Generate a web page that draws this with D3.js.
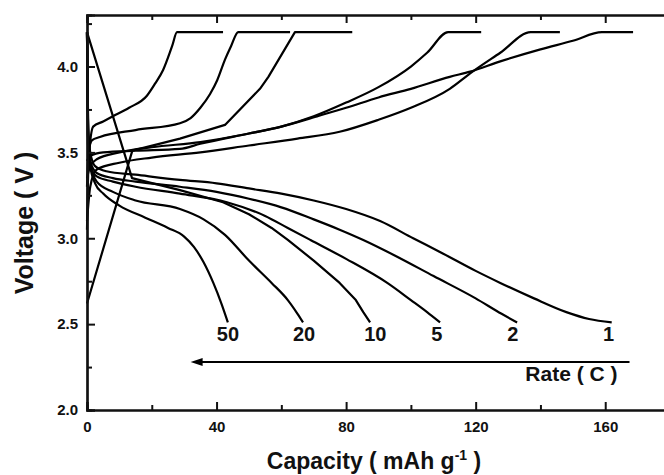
<!DOCTYPE html>
<html>
<head>
<meta charset="utf-8">
<script src="https://cdn.jsdelivr.net/npm/d3@7"></script>
<style>
  html, body { margin: 0; padding: 0; background: #fff; }
  svg { display: block; }
  text { font-family: Arial, "Liberation Sans", Helvetica, sans-serif; font-weight: bold; fill: #111; }
</style>
</head>
<body>
<svg id="chart" width="664" height="475"></svg>
<script>
// ---------- data (capacity mAh/g, voltage V) ----------
const rateLabels = ["50", "20", "10", "5", "2", "1"];
const rateLabelCapacity = [43.5, 67, 89, 108, 131.5, 161];
const rateLabelVoltage = [2.40, 2.40, 2.40, 2.40, 2.40, 2.40];

const charge50C = [[0,3.05],[0.5,3.45],[1.9,3.65],[5,3.68],[8,3.71],[13,3.76],[18.5,3.83],[21,3.9],[23.5,3.98],[26.3,4.12],[27.8,4.2],[42,4.2]];
const charge20C = [[0,3.3],[0.5,3.5],[1.5,3.57],[4,3.59],[15,3.63],[28.7,3.67],[32,3.70],[35,3.76],[38,3.84],[40.2,3.92],[42.6,4.04],[44.5,4.12],[46.7,4.2],[62.7,4.2]];
const charge10C = [[0,2.62],[14,3.51],[28.7,3.58],[42.6,3.66],[53.4,3.87],[56,3.94],[64.2,4.2],[81.9,4.2]];
const charge5C  = [[0,3.35],[1,3.42],[3,3.46],[10,3.5],[20,3.53],[35,3.56],[50,3.61],[60,3.65],[70,3.71],[80,3.79],[90,3.88],[100,4.0],[105,4.08],[111.5,4.2],[121.7,4.2]];
const charge2C  = [[0,3.1],[1,3.3],[3,3.4],[10,3.44],[20,3.47],[35,3.5],[50,3.54],[65,3.58],[78,3.62],[90,3.69],[100,3.76],[112,3.87],[118.3,3.96],[127.6,4.08],[137,4.2],[146,4.2]];
const charge1C  = [[0,3.45],[1,3.48],[5,3.5],[15,3.51],[28.7,3.52],[35,3.55],[50,3.61],[60,3.65],[71,3.71],[80,3.76],[90,3.82],[100,3.87],[112,3.94],[118.3,3.97],[127.6,4.03],[140,4.1],[150,4.15],[159,4.2],[168.6,4.2]];

const discharge50C = [[0,4.2],[0.3,3.6],[1,3.42],[2.5,3.32],[5,3.26],[10,3.19],[18,3.12],[25,3.06],[30,3.01],[33,2.95],[36,2.86],[39,2.74],[41.5,2.62],[43.5,2.51]];
const discharge20C = [[0,4.2],[0.4,3.6],[1.2,3.42],[3,3.33],[8,3.27],[15,3.22],[28.7,3.17],[36,3.11],[42.6,3.02],[50,2.87],[57,2.74],[62,2.64],[65,2.56],[66.7,2.51]];
const discharge10C = [[0,4.2],[13.9,3.35],[28.7,3.28],[42,3.21],[50,3.14],[57,3.06],[62,2.99],[70,2.87],[78,2.74],[83,2.64],[85.3,2.57],[87.4,2.51]];
const discharge5C  = [[0,4.2],[0.3,3.55],[1,3.42],[3,3.36],[8,3.33],[15,3.30],[28.7,3.26],[43.2,3.21],[55,3.13],[62,3.06],[69,2.99],[80,2.88],[92.7,2.74],[100,2.64],[105,2.57],[109,2.51]];
const discharge2C  = [[0,4.2],[0.3,3.6],[1,3.45],[3,3.38],[8,3.35],[15,3.33],[28.7,3.30],[40,3.27],[50,3.23],[60,3.18],[70,3.11],[78,3.05],[85.3,2.99],[95,2.9],[107,2.78],[120,2.65],[128,2.56],[132.8,2.51]];
const discharge1C  = [[0,4.2],[0.3,3.7],[1,3.5],[2.5,3.42],[6,3.39],[15,3.37],[28.7,3.34],[40,3.32],[50,3.29],[60,3.26],[70,3.22],[80,3.17],[90.5,3.1],[100.7,3.0],[110,2.91],[120,2.81],[127.6,2.74],[138,2.65],[148,2.57],[155,2.53],[162,2.51]];

const xTicksMajor = [0, 40, 80, 120, 160];
const xTicksMinor = [20, 60, 100, 140, 180];
const yTicksMajor = [2.0, 2.5, 3.0, 3.5, 4.0];
const yTicksMinor = [2.25, 2.75, 3.25, 3.75, 4.25];
const arrowCapacity = [167.5, 32];
const arrowVoltage = 2.28;

(function () {
// ---------- layout ----------
const svg = d3.select("#chart");
const mLeft = 87, mTop = 15, mBottom = 410, mRight = 670;
const x = d3.scaleLinear().domain([0, 180]).range([mLeft, mRight]);
const y = d3.scaleLinear().domain([2.0, 4.3]).range([mBottom, mTop]);

const curves = [
  {d: charge50C, c: d3.curveMonotoneX}, {d: charge20C, c: d3.curveMonotoneX},
  {d: charge10C, c: d3.curveLinear},    {d: charge5C,  c: d3.curveMonotoneX},
  {d: charge2C,  c: d3.curveMonotoneX}, {d: charge1C,  c: d3.curveMonotoneX},
  {d: discharge50C, c: d3.curveMonotoneX}, {d: discharge20C, c: d3.curveMonotoneX},
  {d: discharge10C, c: d3.curveLinear},    {d: discharge5C,  c: d3.curveMonotoneX},
  {d: discharge2C,  c: d3.curveMonotoneX}, {d: discharge1C,  c: d3.curveMonotoneX}
];

const g = svg.append("g");
curves.forEach(s => {
  const line = d3.line().x(p => x(p[0])).y(p => y(p[1])).curve(s.c);
  g.append("path").attr("d", line(s.d))
    .attr("fill", "none").attr("stroke", "#000").attr("stroke-width", 2.2)
    .attr("stroke-linejoin", "round");
});

// ---------- axes ----------
const axisColor = "#111";
const bx = svg.append("g").attr("transform", `translate(0,${mBottom})`);
bx.call(d3.axisBottom(x).tickValues(xTicksMajor).tickSize(-8).tickFormat(d3.format("d")));
bx.selectAll(".tick text").attr("dy", "0").attr("y", 22).style("font-size", "15px");
bx.append("g").call(d3.axisBottom(x).tickValues(xTicksMinor).tickSize(-5).tickFormat(""));

const tx = svg.append("g").attr("transform", `translate(0,${mTop})`);
tx.call(d3.axisTop(x).tickValues(xTicksMajor).tickSize(-8).tickFormat(""));
tx.append("g").call(d3.axisTop(x).tickValues(xTicksMinor).tickSize(-5).tickFormat(""));

const ly = svg.append("g").attr("transform", `translate(${mLeft},0)`);
ly.call(d3.axisLeft(y).tickValues(yTicksMajor).tickSize(-8).tickFormat(d3.format(".1f")));
ly.selectAll(".tick text").attr("x", -9).style("font-size", "15px");
ly.append("g").call(d3.axisLeft(y).tickValues(yTicksMinor).tickSize(-5).tickFormat(""));

svg.selectAll(".domain").attr("stroke", axisColor).attr("stroke-width", 2.2);
svg.selectAll(".tick line").attr("stroke", axisColor).attr("stroke-width", 2);
svg.selectAll(".tick text").attr("fill", "#111").style("font-family", "Arial, 'Liberation Sans', sans-serif").style("font-weight", "bold");

// ---------- axis titles ----------
const xt = svg.append("text").attr("x", 374).attr("y", 469).attr("text-anchor", "middle").style("font-size", "23px");
xt.append("tspan").text("Capacity ( mAh g");
xt.append("tspan").attr("dy", -9).style("font-size", "14px").text("-1");
xt.append("tspan").attr("dy", 9).text(" )");

svg.append("text").attr("transform", `translate(33,223) rotate(-90)`)
  .attr("text-anchor", "middle").style("font-size", "25px").text("Voltage ( V )");

// ---------- rate labels ----------
rateLabels.forEach((t, i) => {
  svg.append("text").attr("x", x(rateLabelCapacity[i])).attr("y", y(rateLabelVoltage[i]))
    .attr("text-anchor", "middle").style("font-size", "20px").text(t);
});

// ---------- arrow ----------
const ay = y(arrowVoltage);
const ax0 = x(arrowCapacity[1]);
svg.append("line").attr("x1", x(arrowCapacity[0])).attr("x2", ax0 + 6)
  .attr("y1", ay).attr("y2", ay).attr("stroke", "#000").attr("stroke-width", 2);
svg.append("path").attr("d", `M${ax0},${ay} L${ax0 + 12},${ay - 4} L${ax0 + 12},${ay + 4} Z`).attr("fill", "#000");
svg.append("text").attr("x", x(arrowCapacity[0]) - 12).attr("y", ay + 19).attr("text-anchor", "end")
  .style("font-size", "21px").text("Rate ( C )");
})();
</script>
</body>
</html>
